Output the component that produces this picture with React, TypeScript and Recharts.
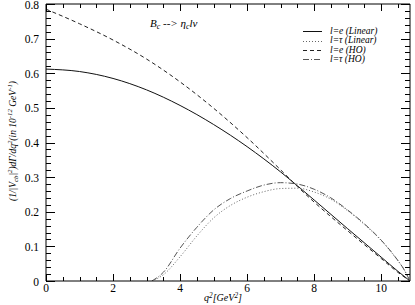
import { LineChart, Line, XAxis, YAxis, ReferenceLine } from "recharts"

const qE = [0, 1, 2, 3, 4, 5, 6, 7, 7.5, 8, 9, 10, 10.5, 10.86]
const eLinear = [0.612, 0.605, 0.585, 0.552, 0.507, 0.452, 0.388, 0.315, 0.275, 0.234, 0.151, 0.069, 0.028, 0]
const eHO = [0.785, 0.743, 0.696, 0.641, 0.575, 0.499, 0.414, 0.321, 0.273, 0.228, 0.145, 0.065, 0.025, 0]

const qTau = [3.16, 3.5, 4, 4.5, 5, 5.5, 6, 6.5, 7, 7.5, 8, 8.5, 9, 9.5, 10, 10.4, 10.7, 10.86]
const tauLinear = [0, 0.018, 0.07, 0.13, 0.182, 0.218, 0.242, 0.258, 0.267, 0.268, 0.257, 0.236, 0.203, 0.163, 0.117, 0.071, 0.03, 0]
const tauHO = [0, 0.025, 0.095, 0.155, 0.205, 0.238, 0.26, 0.277, 0.284, 0.28, 0.265, 0.24, 0.205, 0.165, 0.118, 0.072, 0.03, 0]

const xMajor = [0, 2, 4, 6, 8, 10]
const yMajor = [0, 0.1, 0.2, 0.3, 0.4, 0.5, 0.6, 0.7, 0.8]
// minor ticks every 0.5 on x and 0.02 on y
const xTicks = Array.from({ length: 22 }, (_, i) => i * 0.5)
const yTicks = Array.from({ length: 41 }, (_, i) => Math.round(i * 2) / 100)

const X_MAX = 10.86
const Y_MAX = 0.8
const FONT = '"Liberation Serif", "DejaVu Serif", serif'

// plot box (from the chart margins / axis sizes below)
const PLOT_TOP = 4
const PLOT_RIGHT = 410
const PLOT_LEFT = 46
const PLOT_BOTTOM = 281

const zip = (xs: number[], ys: number[]) => xs.map((q, i) => ({ q, v: ys[i] }))

const series = [
  { name: "l=e (Linear)", data: zip(qE, eLinear), dash: undefined, color: "#111" },
  { name: "l=τ (Linear)", data: zip(qTau, tauLinear), dash: "1 2", color: "#666" },
  { name: "l=e (HO)", data: zip(qE, eHO), dash: "4 3", color: "#222" },
  { name: "l=τ (HO)", data: zip(qTau, tauHO), dash: "6 2 1 2", color: "#555" },
]

const isMajor = (v: number, list: number[]) => list.some((m) => Math.abs(m - v) < 1e-6)

// crisp 1px black marks, otherwise they blur into faint grey
const mark = { stroke: "#000", strokeWidth: 1, shapeRendering: "crispEdges" as const }

// default tickSize 6 + tickMargin 2 -> label anchor sits 8px off the axis line
const bottomTick = (p: any) => {
  const major = isMajor(p.payload.value, xMajor)
  const len = major ? 7 : 4
  const x = Math.round(p.x) + 0.5
  return (
    <g>
      <line x1={x} x2={x} y1={PLOT_BOTTOM} y2={PLOT_BOTTOM - len} {...mark} />
      <line x1={x} x2={x} y1={PLOT_TOP} y2={PLOT_TOP + len} {...mark} />
      {major && (
        <text x={p.x} y={PLOT_BOTTOM} dy={11} textAnchor="middle" fontFamily={FONT} fontSize={11.5} fill="#000">
          {p.payload.value}
        </text>
      )}
    </g>
  )
}

const leftTick = (p: any) => {
  const major = isMajor(p.payload.value, yMajor)
  const len = major ? 9 : 5
  const y = Math.round(p.y) + 0.5
  return (
    <g>
      <line x1={PLOT_LEFT} x2={PLOT_LEFT + len} y1={y} y2={y} {...mark} />
      <line x1={PLOT_RIGHT} x2={PLOT_RIGHT - len} y1={y} y2={y} {...mark} />
      {major && (
        <text x={PLOT_LEFT - 7} y={p.y} dy={4.5} textAnchor="end" fontFamily={FONT} fontSize={11.5} fill="#000">
          {p.payload.value}
        </text>
      )}
    </g>
  )
}

const sup = { fontSize: "0.72em", verticalAlign: "0.45em", lineHeight: 0 } as const
const sub = { fontSize: "0.72em", verticalAlign: "-0.3em", lineHeight: 0 } as const

export default function App() {
  return (
    <div style={{ position: "fixed", left: 0, top: 0, width: 415, height: 305, background: "#fff" }}>
      <LineChart width={415} height={305} margin={{ top: PLOT_TOP, right: 415 - PLOT_RIGHT, bottom: 0, left: 0 }}>
        <XAxis
          xAxisId="b"
          dataKey="q"
          type="number"
          domain={[0, X_MAX]}
          allowDataOverflow
          ticks={xTicks}
          interval={0}
          tickLine={false}
          tick={bottomTick}
          axisLine={{ stroke: "#000" }}
          height={305 - PLOT_BOTTOM}
        />
        <YAxis
          yAxisId="l"
          type="number"
          domain={[0, Y_MAX]}
          allowDataOverflow
          ticks={yTicks}
          interval={0}
          tickLine={false}
          tick={leftTick}
          axisLine={{ stroke: "#000" }}
          width={PLOT_LEFT}
        />
        <ReferenceLine xAxisId="b" yAxisId="l" x={X_MAX} stroke="#000" />
        <ReferenceLine xAxisId="b" yAxisId="l" y={Y_MAX} stroke="#000" />
        {series.map((s) => (
          <Line
            key={s.name}
            xAxisId="b"
            yAxisId="l"
            data={s.data}
            dataKey="v"
            name={s.name}
            type="monotone"
            stroke={s.color}
            strokeWidth={1}
            strokeDasharray={s.dash}
            dot={false}
            activeDot={false}
            isAnimationActive={false}
          />
        ))}
      </LineChart>

      {/* title */}
      <div
        style={{
          position: "absolute",
          left: 150,
          top: 17,
          fontFamily: FONT,
          fontStyle: "italic",
          fontSize: 11,
          lineHeight: "12px",
          whiteSpace: "nowrap",
        }}
      >
        B<span style={sub}>c</span> --&gt; η<span style={sub}>c</span>lν
      </div>

      {/* legend */}
      <div
        style={{
          position: "absolute",
          left: 302,
          top: 27,
          fontFamily: FONT,
          fontStyle: "italic",
          fontSize: 9.5,
          lineHeight: "9.5px",
        }}
      >
        {series.map((s) => (
          <div key={s.name} style={{ display: "flex", alignItems: "center", height: 9.4 }}>
            <svg width={21} height={9} style={{ marginRight: 7, flex: "none" }}>
              <line x1={1} x2={20} y1={4.5} y2={4.5} stroke={s.color} strokeDasharray={s.dash} />
            </svg>
            <span style={{ whiteSpace: "nowrap" }}>{s.name}</span>
          </div>
        ))}
      </div>

      {/* x title */}
      <div
        style={{
          position: "absolute",
          left: 223,
          top: 292,
          transform: "translateX(-50%)",
          fontFamily: FONT,
          fontStyle: "italic",
          fontSize: 10,
          lineHeight: "11px",
          whiteSpace: "nowrap",
        }}
      >
        q<span style={sup}>2</span>[GeV<span style={sup}>2</span>]
      </div>

      {/* y title */}
      <div
        style={{
          position: "absolute",
          left: 13,
          top: 141,
          transform: "translate(-50%, -50%) rotate(-90deg)",
          fontFamily: FONT,
          fontStyle: "italic",
          fontSize: 9.5,
          lineHeight: "11px",
          whiteSpace: "nowrap",
        }}
      >
        (1/|V<span style={sub}>cb</span>|<span style={sup}>2</span>)dΓ/dq<span style={sup}>2</span>(in 10
        <span style={sup}>-12</span> GeV<span style={sup}>-1</span>)
      </div>
    </div>
  )
}
